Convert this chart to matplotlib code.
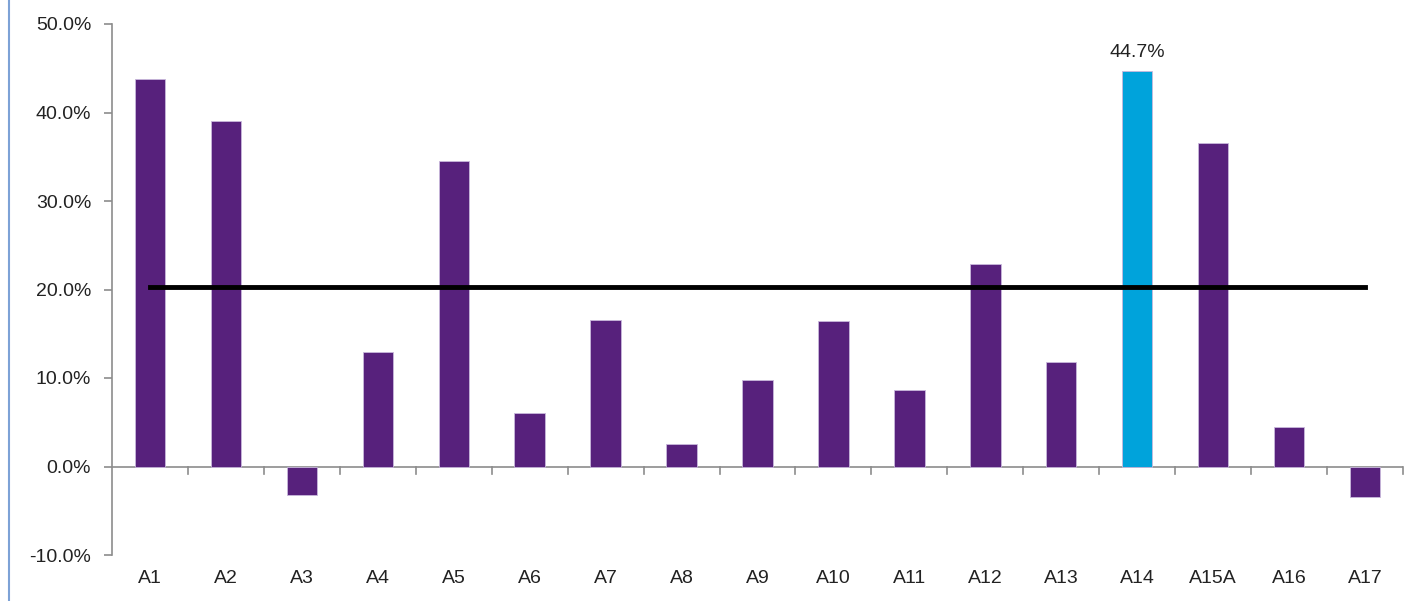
import matplotlib.pyplot as plt
import numpy
from matplotlib.ticker import FuncFormatter
from matplotlib.lines import Line2D

categories = ['A1', 'A2', 'A3', 'A4', 'A5', 'A6', 'A7', 'A8', 'A9', 'A10',
              'A11', 'A12', 'A13', 'A14', 'A15A', 'A16', 'A17']
values = [43.8, 39.0, -3.2, 12.9, 34.5, 6.1, 16.6, 2.5, 9.8, 16.4,
          8.7, 22.9, 11.8, 44.7, 36.6, 4.5, -3.4]
average = 20.3
highlight = 'A14'

PURPLE = '#57217c'
BLUE = '#00a3db'

plt.rcParams['font.family'] = ['Liberation Sans', 'DejaVu Sans']

figure = plt.figure(figsize=(14.17, 6.01), dpi=100)
ax = figure.add_axes([112 / 1417, 1 - 555 / 601, (1403 - 112) / 1417, (555 - 24) / 601])

x = numpy.arange(len(categories))
colors = [BLUE if c == highlight else PURPLE for c in categories]
ax.bar(x, values, width=0.4, color=colors, edgecolor='#c9b8dc', linewidth=0.6, zorder=2)

ax.plot([x[0], x[-1]], [average, average], '-', color='black', linewidth=3.5, zorder=3)

i = categories.index(highlight)
ax.annotate('{:.1f}%'.format(values[i]), (x[i], values[i]), xytext=(0, 7),
            textcoords='offset points', ha='center', va='bottom', fontsize=14, color='#222222')

ax.set_xlim(-0.5, len(categories) - 0.5)
ax.set_ylim(-10, 50)
ax.set_yticks(numpy.arange(-10, 51, 10))
ax.yaxis.set_major_formatter(FuncFormatter(lambda v, p: '{:.1f}%'.format(v)))

for s in ['top', 'right', 'bottom']:
    ax.spines[s].set_visible(False)
ax.spines['left'].set_color('#8c8c8c')
ax.spines['left'].set_linewidth(1.2)
ax.axhline(0, color='#8c8c8c', linewidth=1.2, zorder=1)

# category ticks hanging below the zero line, between categories
for b in numpy.arange(-0.5, len(categories), 1.0)[1:]:
    ax.plot([b, b], [0, -0.8], color='#8c8c8c', linewidth=1.2, clip_on=False, zorder=1)

ax.set_xticks(x)
ax.set_xticklabels(categories)
ax.tick_params(axis='x', length=0, pad=11, labelsize=14, labelcolor='#222222')
ax.tick_params(axis='y', length=6, width=1.2, color='#8c8c8c', labelsize=14, labelcolor='#222222', pad=9)

figure.add_artist(Line2D([9 / 1417, 9 / 1417], [0, 1], color='#7da2d6', linewidth=1.5))

figure.savefig('out.png', dpi=100)
